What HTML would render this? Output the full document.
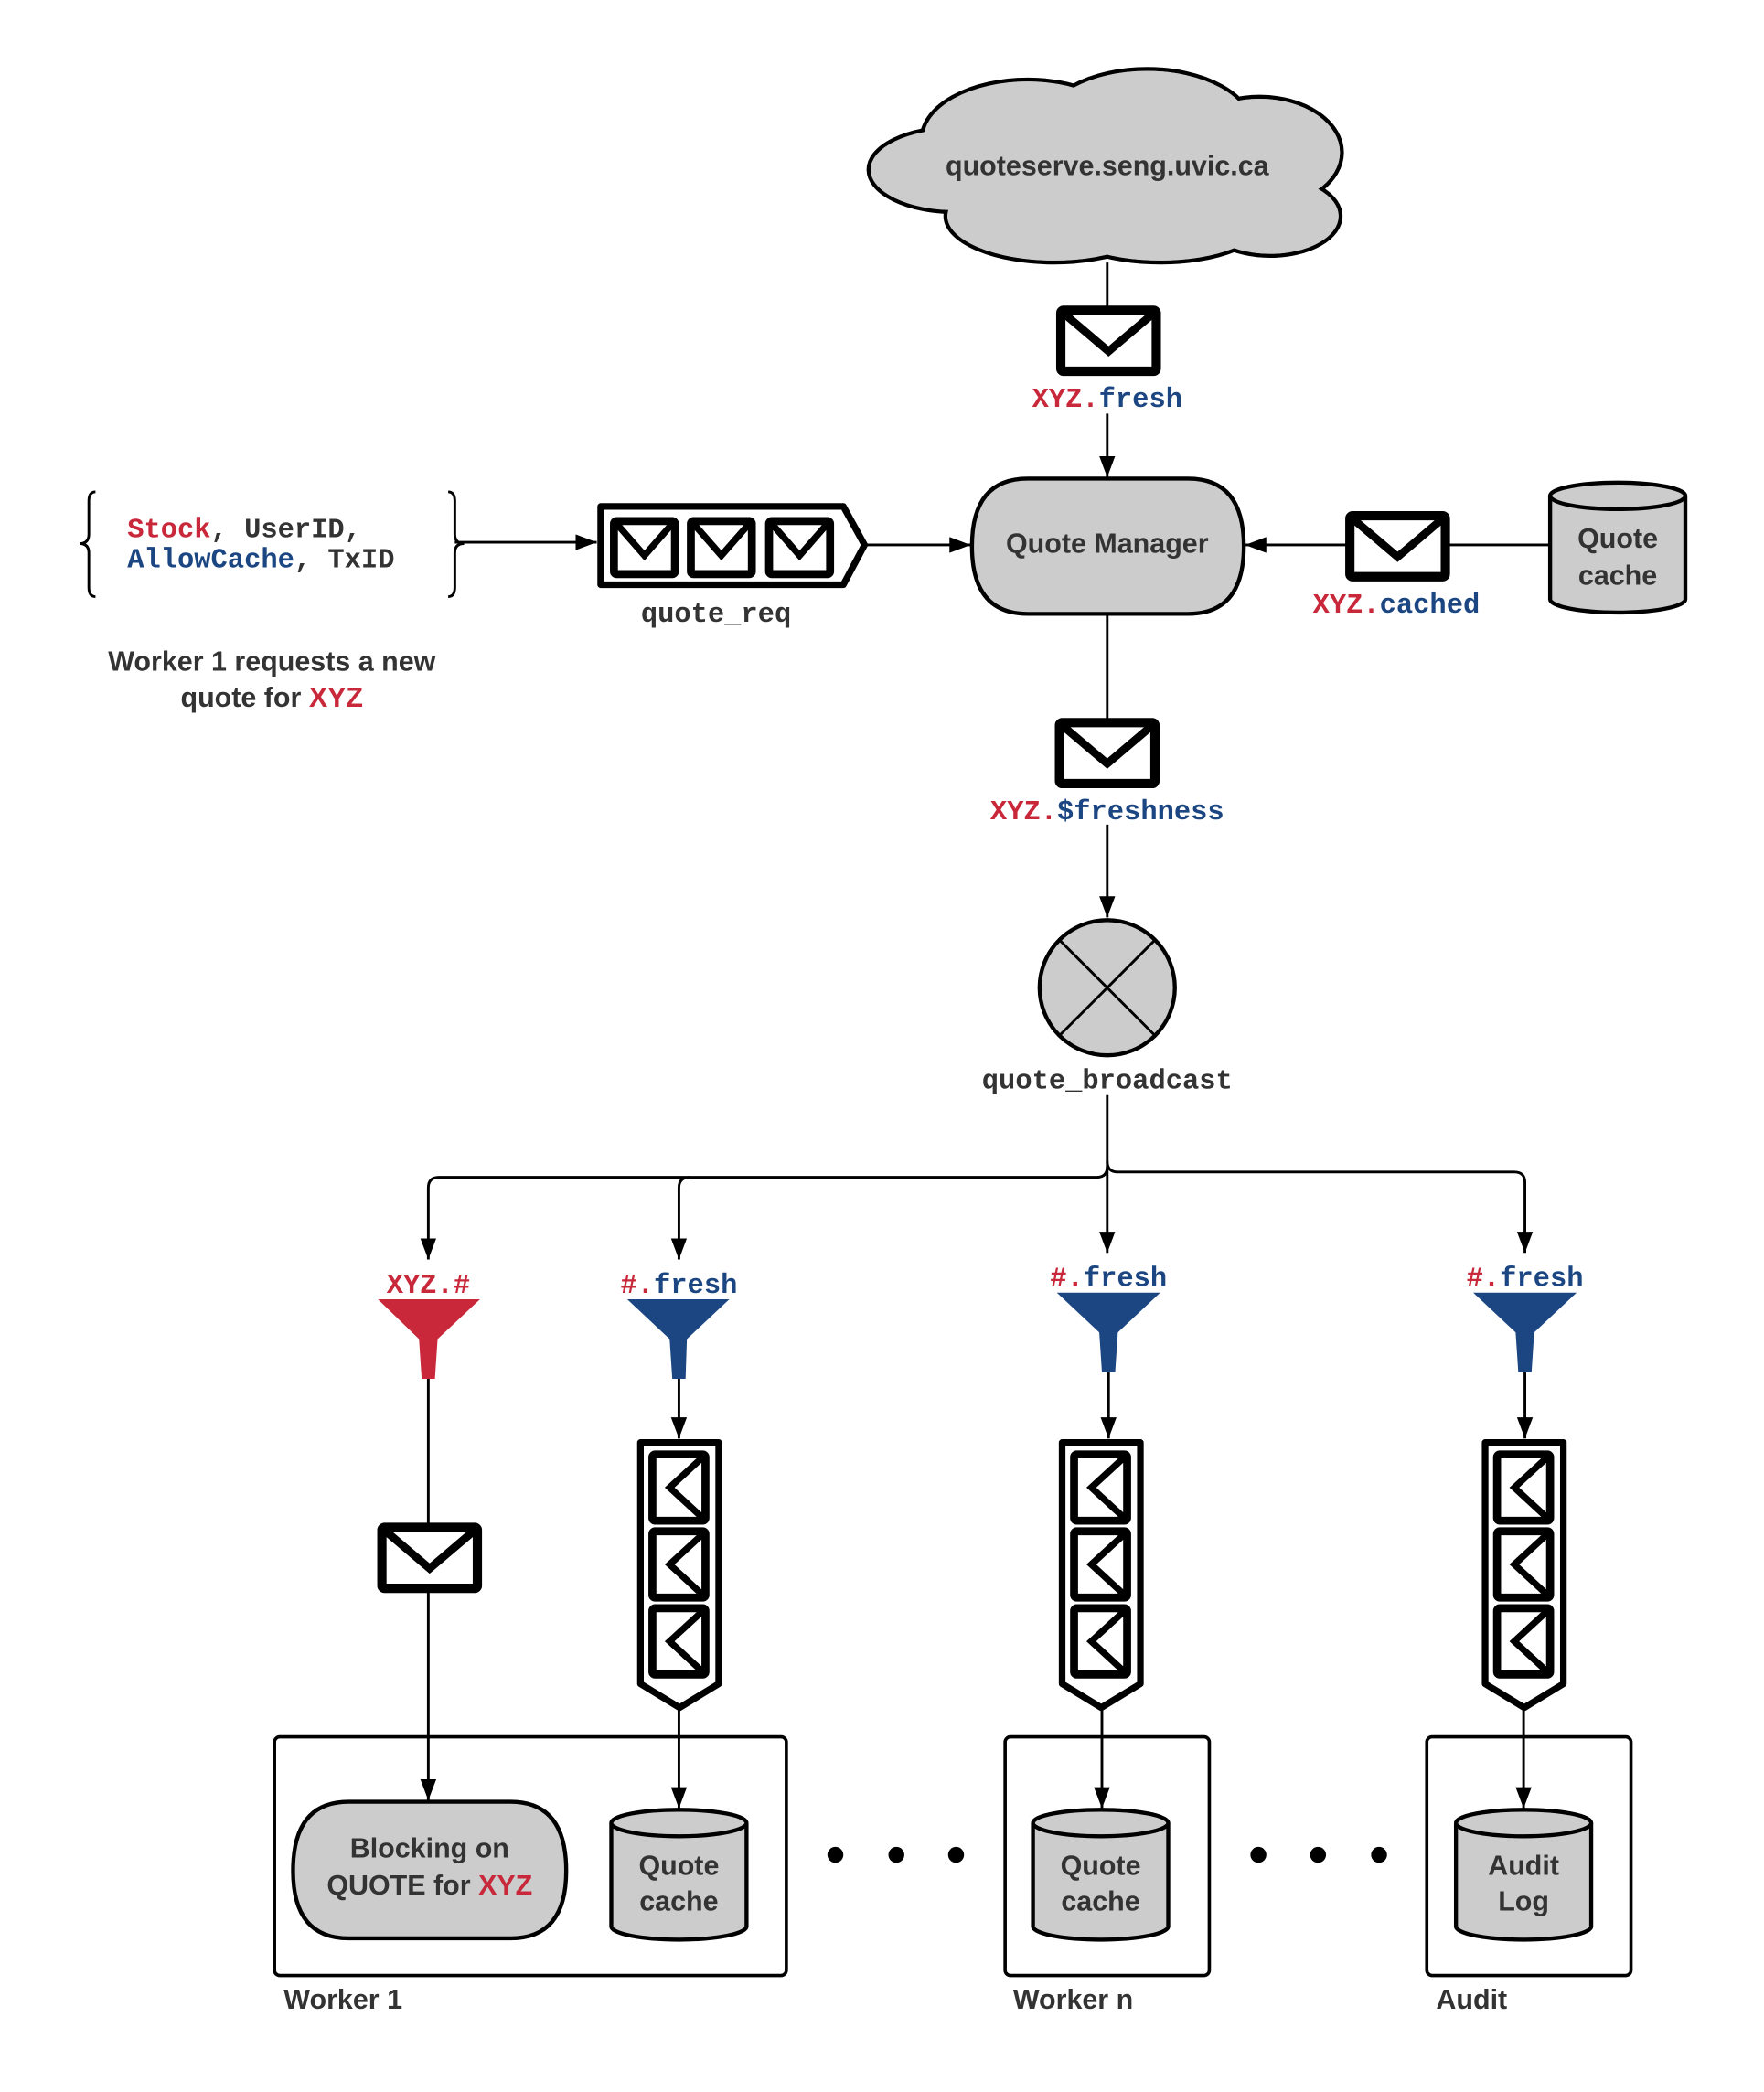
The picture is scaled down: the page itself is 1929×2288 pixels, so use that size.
<!DOCTYPE html>
<html><head><meta charset="utf-8"><style>
html,body{margin:0;padding:0;background:#fff;}
svg{display:block;}
text{font-family:"Liberation Sans",sans-serif;fill:#333;font-weight:bold;}
.m{font-family:"Liberation Mono",monospace;font-weight:bold;}
.r{fill:#c8283a;} .b{fill:#1b4682;}
</style></head><body>
<svg width="1929" height="2288" viewBox="0 0 1330.3 1577.9" preserveAspectRatio="none" xmlns="http://www.w3.org/2000/svg">
<defs>
<marker id="a" markerWidth="16" markerHeight="12" refX="16" refY="6" orient="auto" markerUnits="userSpaceOnUse" viewBox="0 0 16 12"><path d="M0,0 L16,6 L0,12 z" fill="#000"/></marker>
<g id="env"><rect x="0" y="0" width="72" height="46" fill="#fff" stroke="#000" stroke-width="7" rx="2"/><path d="M3,3 L36,31 L69,3" fill="none" stroke="#000" stroke-width="6"/></g>
<g id="senv"><rect x="0" y="0" width="46" height="40" fill="#fff" stroke="#000" stroke-width="6" rx="2"/><path d="M2,2 L23,26 L44,2" fill="none" stroke="#000" stroke-width="5"/></g>
<g id="venv"><rect x="0" y="0" width="40" height="50" fill="#fff" stroke="#000" stroke-width="6" rx="2"/><path d="M38,2 L13,25 L38,48" fill="none" stroke="#000" stroke-width="5"/></g>
<g id="vq"><path d="M3,3 L62,3 L62,185 L32.5,203 L3,185 Z" fill="#fff" stroke="#000" stroke-width="5" stroke-linejoin="round"/>
<use href="#venv" x="12" y="12"/><use href="#venv" x="12" y="70"/><use href="#venv" x="12" y="128"/></g>
<g id="cyl"><path d="M0,10 L0,88 A51,10 0 0 0 102,88 L102,10" fill="#ccc" stroke="#000" stroke-width="3"/><ellipse cx="51" cy="10" rx="51" ry="10" fill="#ccc" stroke="#000" stroke-width="3"/></g>
</defs>

<g stroke="#000" stroke-width="3" fill="#ccc">
<ellipse cx="720" cy="128" rx="65" ry="32"/>
<ellipse cx="775" cy="105" rx="80" ry="45"/>
<ellipse cx="865" cy="97" rx="80" ry="45"/>
<ellipse cx="950" cy="115" rx="62" ry="42"/>
<ellipse cx="958" cy="163" rx="53" ry="30"/>
<ellipse cx="795" cy="163" rx="82" ry="35"/>
<ellipse cx="875" cy="165" rx="80" ry="33"/>
</g>
<g fill="#ccc">
<ellipse cx="720" cy="128" rx="63.5" ry="30.5"/>
<ellipse cx="775" cy="105" rx="78.5" ry="43.5"/>
<ellipse cx="865" cy="97" rx="78.5" ry="43.5"/>
<ellipse cx="950" cy="115" rx="60.5" ry="40.5"/>
<ellipse cx="958" cy="163" rx="51.5" ry="28.5"/>
<ellipse cx="795" cy="163" rx="80.5" ry="33.5"/>
<ellipse cx="875" cy="165" rx="78.5" ry="31.5"/>
</g>
<text x="835" y="132" font-size="21" text-anchor="middle">quoteserve.seng.uvic.ca</text>

<g stroke="#000" stroke-width="2" fill="none">
<line x1="835" y1="198" x2="835" y2="233"/>
<line x1="835" y1="312" x2="835" y2="360" marker-end="url(#a)"/>
<line x1="343" y1="409" x2="450" y2="409" marker-end="url(#a)"/>
<line x1="652" y1="411" x2="732" y2="411" marker-end="url(#a)"/>
<line x1="1169" y1="411" x2="1090" y2="411"/>
<line x1="1016" y1="411" x2="939" y2="411" marker-end="url(#a)"/>
<line x1="835" y1="463" x2="835" y2="545"/>
<line x1="835" y1="622" x2="835" y2="692" marker-end="url(#a)"/>
<line x1="835" y1="826" x2="835" y2="945" marker-end="url(#a)"/>
<path d="M835,880 Q835,888 827,888 L331,888 Q323,888 323,896 L323,950" marker-end="url(#a)"/>
<path d="M520,888 Q512,888 512,896 L512,950" marker-end="url(#a)"/>
<path d="M835,876 Q835,884 843,884 L1142,884 Q1150,884 1150,892 L1150,945" marker-end="url(#a)"/>
<line x1="323" y1="1040" x2="323" y2="1150"/>
<line x1="323" y1="1200" x2="323" y2="1358" marker-end="url(#a)"/>
<line x1="512" y1="1040" x2="512" y2="1085" marker-end="url(#a)"/>
<line x1="836" y1="1035" x2="836" y2="1085" marker-end="url(#a)"/>
<line x1="1150" y1="1035" x2="1150" y2="1085" marker-end="url(#a)"/>
<line x1="512" y1="1288" x2="512" y2="1364" marker-end="url(#a)"/>
<line x1="831" y1="1288" x2="831" y2="1364" marker-end="url(#a)"/>
<line x1="1149" y1="1288" x2="1149" y2="1364" marker-end="url(#a)"/>
</g>

<use href="#env" x="800" y="234"/>
<text class="m" x="835" y="307" font-size="21" text-anchor="middle"><tspan class="r">XYZ.</tspan><tspan class="b">fresh</tspan></text>

<path d="M775,361 L896,361 Q938,361 938,412 Q938,463 896,463 L775,463 Q733,463 733,412 Q733,361 775,361 Z" fill="#ccc" stroke="#000" stroke-width="3"/>
<text x="835" y="417" font-size="21" text-anchor="middle">Quote Manager</text>

<path d="M72,371 Q67,371 67,378 L67,403 Q67,410 60,410 Q67,410 67,417 L67,443 Q67,450 72,450" fill="none" stroke="#000" stroke-width="2"/>
<path d="M338,371 Q343,371 343,378 L343,403 Q343,410 350,410 Q343,410 343,417 L343,443 Q343,450 338,450" fill="none" stroke="#000" stroke-width="2"/>
<text class="m" x="96" y="405" font-size="21"><tspan class="r">Stock</tspan>, UserID,</text>
<text class="m" x="96" y="428" font-size="21"><tspan class="b">AllowCache</tspan>, TxID</text>
<text x="205" y="506" font-size="21" text-anchor="middle">Worker 1 requests a new</text>
<text x="205" y="533" font-size="21" text-anchor="middle">quote for <tspan class="r">XYZ</tspan></text>

<path d="M453,382 L636,382 L652,411 L636,441 L453,441 Z" fill="#fff" stroke="#000" stroke-width="5" stroke-linejoin="round"/>
<use href="#senv" x="463" y="393"/><use href="#senv" x="521" y="393"/><use href="#senv" x="580" y="393"/>
<text class="m" x="540" y="469" font-size="21" text-anchor="middle">quote_req</text>

<use href="#cyl" x="1169" y="364"/>
<text x="1220" y="413" font-size="21" text-anchor="middle">Quote</text>
<text x="1220" y="441" font-size="21" text-anchor="middle">cache</text>
<use href="#env" x="1018" y="389"/>
<text class="m" x="1053" y="462" font-size="21" text-anchor="middle"><tspan class="r">XYZ.</tspan><tspan class="b">cached</tspan></text>

<use href="#env" x="799" y="545"/>
<text class="m" x="835" y="618" font-size="21" text-anchor="middle"><tspan class="r">XYZ.</tspan><tspan class="b">$freshness</tspan></text>

<circle cx="835" cy="745" r="51" fill="#ccc" stroke="#000" stroke-width="3"/>
<path d="M799,709 L871,781 M871,709 L799,781" stroke="#000" stroke-width="2"/>
<text class="m" x="835" y="821" font-size="21" text-anchor="middle">quote_broadcast</text>

<text class="m" x="323" y="975" font-size="21" text-anchor="middle"><tspan class="r">XYZ.#</tspan></text>
<path d="M285,980 L362,980 L330,1010 L328,1040 L318,1040 L316,1010 Z" fill="#c8283a"/>
<text class="m" x="512" y="975" font-size="21" text-anchor="middle"><tspan class="r">#.</tspan><tspan class="b">fresh</tspan></text>
<path d="M473,980 L550,980 L518,1010 L517,1040 L507,1040 L505,1010 Z" fill="#1b4682"/>
<text class="m" x="836" y="970" font-size="21" text-anchor="middle"><tspan class="r">#.</tspan><tspan class="b">fresh</tspan></text>
<path d="M797,975 L875,975 L843,1005 L841,1035 L831,1035 L829,1005 Z" fill="#1b4682"/>
<text class="m" x="1150" y="970" font-size="21" text-anchor="middle"><tspan class="r">#.</tspan><tspan class="b">fresh</tspan></text>
<path d="M1111,975 L1189,975 L1157,1005 L1155,1035 L1145,1035 L1143,1005 Z" fill="#1b4682"/>

<use href="#env" x="288" y="1152"/>

<use href="#vq" x="480" y="1085"/>
<use href="#vq" x="798" y="1085"/>
<use href="#vq" x="1117" y="1085"/>

<g fill="none" stroke="#000" stroke-width="2.5">
<rect x="207" y="1310" width="386" height="180" rx="4"/>
<rect x="758" y="1310" width="154" height="180" rx="4"/>
<rect x="1076" y="1310" width="154" height="180" rx="4"/>
</g>
<path d="M263,1359 L385,1359 Q427,1359 427,1411 Q427,1462 385,1462 L263,1462 Q221,1462 221,1411 Q221,1359 263,1359 Z" fill="#ccc" stroke="#000" stroke-width="3"/>
<text x="324" y="1401" font-size="21" text-anchor="middle">Blocking on</text>
<text x="324" y="1429" font-size="21" text-anchor="middle">QUOTE for <tspan class="r">XYZ</tspan></text>

<use href="#cyl" x="461" y="1365"/>
<text x="512" y="1414" font-size="21" text-anchor="middle">Quote</text>
<text x="512" y="1441" font-size="21" text-anchor="middle">cache</text>
<use href="#cyl" x="779" y="1365"/>
<text x="830" y="1414" font-size="21" text-anchor="middle">Quote</text>
<text x="830" y="1441" font-size="21" text-anchor="middle">cache</text>
<use href="#cyl" x="1098" y="1365"/>
<text x="1149" y="1414" font-size="21" text-anchor="middle">Audit</text>
<text x="1149" y="1441" font-size="21" text-anchor="middle">Log</text>

<g fill="#000">
<circle cx="630" cy="1399" r="6"/><circle cx="676" cy="1399" r="6"/><circle cx="721" cy="1399" r="6"/>
<circle cx="949" cy="1399" r="6"/><circle cx="994" cy="1399" r="6"/><circle cx="1040" cy="1399" r="6"/>
</g>
<text x="214" y="1515" font-size="21">Worker 1</text>
<text x="764" y="1515" font-size="21">Worker n</text>
<text x="1083" y="1515" font-size="21">Audit</text>
</svg>
</body></html>
